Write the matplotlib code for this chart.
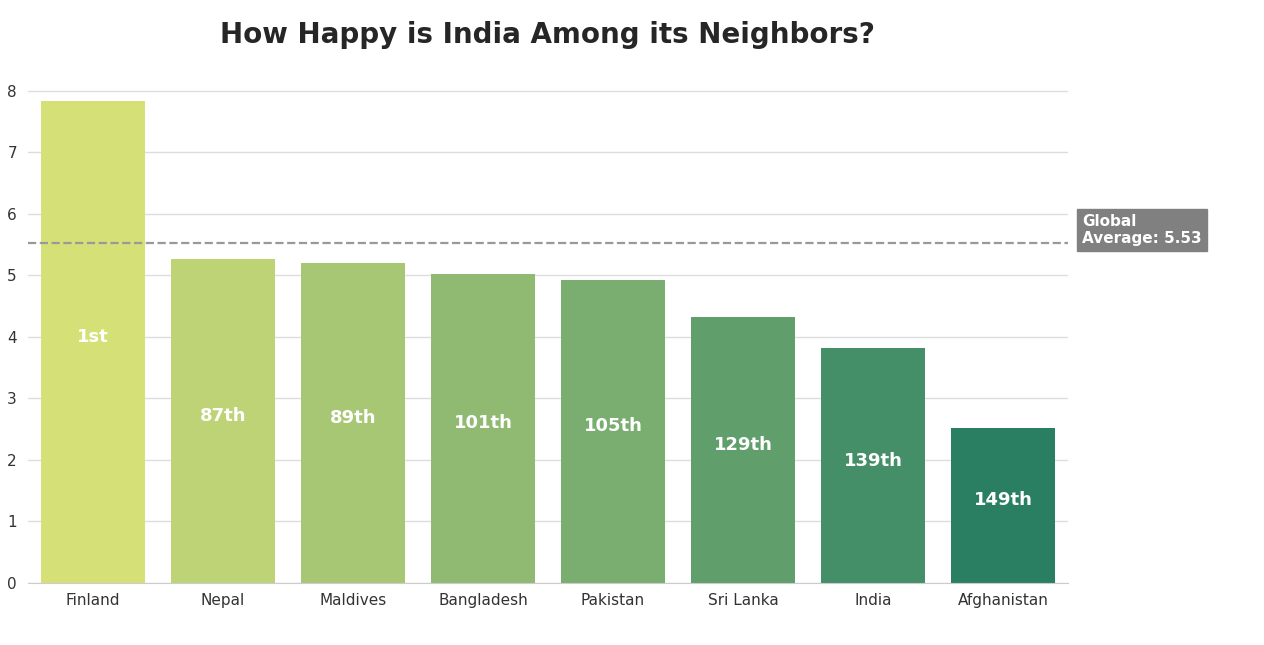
import matplotlib
matplotlib.use("Agg")
import matplotlib.pyplot as plt
import matplotlib.transforms as mtransforms
import seaborn as sns

countries = ["Finland", "Nepal", "Maldives", "Bangladesh", "Pakistan", "Sri Lanka", "India", "Afghanistan"]
scores = [7.842, 5.269, 5.198, 5.025, 4.934, 4.325, 3.819, 2.523]
ranks = ["1st", "87th", "89th", "101th", "105th", "129th", "139th", "149th"]
global_avg = 5.53

colors = [sns.desaturate(c, 0.75) for c in sns.color_palette("summer_r", len(countries))]

fig = plt.figure(figsize=(12.64, 6.45), dpi=100)
ax = fig.add_axes([28/1264, 1-583/645, (1068-28)/1264, (583-76.6)/645])

x = list(range(len(countries)))
ax.bar(x, scores, width=0.8, color=colors, zorder=2)
ax.set_xlim(-0.5, len(countries)-0.5)
ax.set_ylim(0, max(scores)*1.05)

for xi, s, r in zip(x, scores, ranks):
    ax.text(xi, s/2, r, ha="center", va="baseline", color="white",
            fontsize=13, fontweight="bold", zorder=3)

ax.axhline(global_avg, color="#999999", linestyle="--", linewidth=1.6, zorder=3)
trans = mtransforms.blended_transform_factory(ax.transAxes, ax.transData)
ax.text(1.0135, global_avg, "Global\nAverage: 5.53", transform=trans, ha="left",
        color="white", fontsize=11, fontweight="bold", linespacing=1.15,
        bbox=dict(facecolor="#808080", edgecolor="#808080", boxstyle="square,pad=0.35"))

ax.set_xticks(x)
ax.set_xticklabels(countries)
ax.set_yticks(range(0, 9))
ax.tick_params(axis="both", length=0, labelsize=11, labelcolor="#333333")
ax.tick_params(axis="x", pad=7)
ax.tick_params(axis="y", pad=8)
ax.yaxis.grid(True, color="#dddddd", linewidth=1, zorder=0)
ax.set_axisbelow(True)
for side in ["left", "right", "top"]:
    ax.spines[side].set_visible(False)
ax.spines["bottom"].set_color("#cccccc")

fig.text(547/1264, 1-35/645, "How Happy is India Among its Neighbors?", ha="center", va="center",
         fontsize=20, fontweight="bold", color="#262626")

fig.savefig("out.png", dpi=100, facecolor="white")
